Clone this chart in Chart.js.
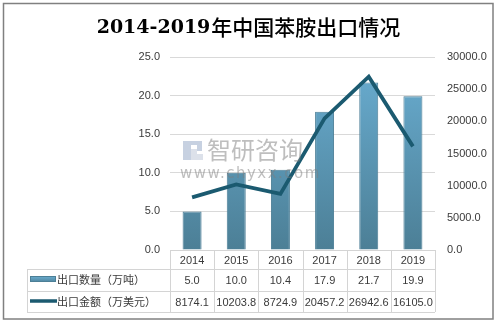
<!DOCTYPE html>
<html>
<head>
<meta charset="utf-8">
<script src="https://cdn.jsdelivr.net/npm/chart.js@4"></script>
<style>
  html, body { margin: 0; padding: 0; background: #fff; }
  #wrap { position: relative; width: 498px; height: 323px; }
</style>
</head>
<body>
<div id="wrap"><canvas id="myChart" width="498" height="323"></canvas></div>
<script>
var years = ['2014', '2015', '2016', '2017', '2018', '2019'];
var volume = [5.0, 10.0, 10.4, 17.9, 21.7, 19.9];
var amount = [8174.1, 10203.8, 8724.9, 20457.2, 26942.6, 16105.0];
var volumeLabel = '出口数量（万吨）';
var amountLabel = '出口金额（万美元）';
var titleDigits = '2014-2019';
var titleText = '年中国苯胺出口情况';
var markName = '智研咨询';
var markUrl = 'www.chyxx.com';

var textColor = '#3a3a3a';
var lineColor = '#1b5a70';
var numFont = "11px 'Liberation Sans', 'Noto Sans CJK SC', sans-serif";
var cjkFont = "11px 'Noto Sans CJK SC', sans-serif";

function barGradient(ctx, top, bottom) {
    var g = ctx.createLinearGradient(0, top, 0, bottom);
    g.addColorStop(0, '#6aaed2');
    g.addColorStop(1, '#4c7f96');
    return g;
}

var framePlugin = {
    id: 'frame',
    beforeDraw: function(chart) {
        var ctx = chart.ctx;
        ctx.save();
        ctx.fillStyle = '#fff';
        ctx.fillRect(0, 0, chart.width, chart.height);
        ctx.strokeStyle = '#808080';
        ctx.lineWidth = 1.5;
        ctx.strokeRect(3.5, 3.5, 489.5, 315.5);
        // title, digits and chinese part drawn separately
        ctx.textBaseline = 'middle';
        ctx.fillStyle = '#000';
        var digitFont = "bold 19px 'DejaVu Serif', serif";
        var hanFont = "500 21px 'Noto Sans CJK SC', sans-serif";
        ctx.font = digitFont;
        var w1 = ctx.measureText(titleDigits).width;
        ctx.font = hanFont;
        var w2 = ctx.measureText(titleText).width;
        var x0 = 248 - (w1 + w2) / 2;
        ctx.textAlign = 'left';
        ctx.font = digitFont;
        ctx.fillText(titleDigits, x0, 28);
        ctx.font = hanFont;
        ctx.fillText(titleText, x0 + w1 + 1, 27);
        ctx.restore();
    },
    afterDatasetsDraw: function(chart) {
        // watermark
        var ctx = chart.ctx;
        ctx.save();
        ctx.globalAlpha = 0.5;
        ctx.fillStyle = '#8fa3c4';
        ctx.fillRect(183, 141, 8, 19);
        ctx.fillRect(191, 141, 11, 4);
        ctx.fillRect(197, 145, 5, 6);
        ctx.fillStyle = '#b9c3d6';
        ctx.fillRect(191, 149, 6, 11);
        ctx.fillRect(197, 154, 6, 6);
        ctx.fillStyle = '#7d7d7d';
        ctx.textBaseline = 'middle';
        ctx.textAlign = 'left';
        ctx.font = "24px 'Noto Sans CJK SC', sans-serif";
        ctx.fillText(markName, 207, 150);
        ctx.font = "15px 'DejaVu Sans', sans-serif";
        ctx.letterSpacing = '1.5px';
        ctx.fillText(markUrl, 180, 174);
        ctx.restore();
    },
    afterDraw: function(chart) {
        var ctx = chart.ctx;
        var area = chart.chartArea;
        var xs = chart.scales.x;
        var colW = (area.right - area.left) / years.length;
        var rows = [area.bottom, 269, 291, 312];
        var tableLeft = 27;
        ctx.save();
        ctx.strokeStyle = '#d4d4d4';
        ctx.lineWidth = 1;
        ctx.beginPath();
        ctx.moveTo(area.left, Math.round(rows[0]) + 0.5);
        ctx.lineTo(area.right, Math.round(rows[0]) + 0.5);
        for (var r = 1; r < rows.length; r++) {
            ctx.moveTo(tableLeft, rows[r] + 0.5);
            ctx.lineTo(area.right, rows[r] + 0.5);
        }
        ctx.moveTo(tableLeft + 0.5, rows[1]);
        ctx.lineTo(tableLeft + 0.5, rows[3]);
        for (var i = 0; i <= years.length; i++) {
            var vx = Math.round(area.left + i * colW) + 0.5;
            ctx.moveTo(vx, rows[0]);
            ctx.lineTo(vx, rows[3]);
        }
        ctx.stroke();

        ctx.fillStyle = textColor;
        ctx.textAlign = 'center';
        ctx.textBaseline = 'middle';
        ctx.font = numFont;
        for (var j = 0; j < years.length; j++) {
            var cx = xs.getPixelForValue(j);
            ctx.fillText(years[j], cx, (rows[0] + rows[1]) / 2 + 1);
            ctx.fillText(volume[j].toFixed(1), cx, (rows[1] + rows[2]) / 2 + 1);
            ctx.fillText(amount[j].toFixed(1), cx, (rows[2] + rows[3]) / 2 + 1);
        }
        // legend keys
        ctx.fillStyle = barGradient(ctx, 276, 283);
        ctx.fillRect(30, 276, 26, 6);
        ctx.strokeStyle = '#4c7f96';
        ctx.strokeRect(30.5, 276.5, 25, 5);
        ctx.strokeStyle = lineColor;
        ctx.lineWidth = 3.5;
        ctx.beginPath();
        ctx.moveTo(30, 301);
        ctx.lineTo(57, 301);
        ctx.stroke();
        ctx.fillStyle = textColor;
        ctx.textAlign = 'left';
        ctx.font = cjkFont;
        ctx.fillText(volumeLabel, 57, 280);
        ctx.fillText(amountLabel, 57, 302);
        ctx.restore();
    }
};

var chart = new Chart(document.getElementById('myChart').getContext('2d'), {
    type: 'bar',
    data: {
        labels: years,
        datasets: [{
            type: 'line',
            label: amountLabel,
            data: amount,
            yAxisID: 'y1',
            borderColor: lineColor,
            borderWidth: 3.8,
            pointRadius: 0,
            tension: 0,
            order: 0
        }, {
            type: 'bar',
            label: volumeLabel,
            data: volume,
            yAxisID: 'y',
            backgroundColor: function(c) {
                var a = c.chart.chartArea;
                if (!a) return '#5b98b8';
                return barGradient(c.chart.ctx, a.top, a.bottom);
            },
            borderColor: '#4a7d95',
            borderWidth: 1,
            categoryPercentage: 1,
            barPercentage: 0.43,
            order: 1
        }]
    },
    options: {
        responsive: false,
        animation: false,
        layout: { padding: { top: 57, bottom: 73, left: 0, right: 0 } },
        plugins: {
            legend: { display: false },
            tooltip: { enabled: false },
            title: { display: false }
        },
        scales: {
            x: {
                display: false,
                offset: true
            },
            y: {
                position: 'left',
                min: 0,
                max: 25,
                afterFit: function(s) { s.width = 170; },
                ticks: {
                    stepSize: 5,
                    padding: 10,
                    color: textColor,
                    font: { family: "'Liberation Sans', sans-serif", size: 11 },
                    callback: function(v) { return v.toFixed(1); }
                },
                grid: { color: '#d9d9d9', drawTicks: false },
                border: { display: false }
            },
            y1: {
                position: 'right',
                min: 0,
                max: 30000,
                afterFit: function(s) { s.width = 63; },
                ticks: {
                    stepSize: 5000,
                    padding: 12,
                    color: textColor,
                    font: { family: "'Liberation Sans', sans-serif", size: 11 },
                    callback: function(v) { return v.toFixed(1); }
                },
                grid: { display: false, drawTicks: false },
                border: { display: false }
            }
        }
    },
    plugins: [framePlugin]
});
</script>
</body>
</html>
